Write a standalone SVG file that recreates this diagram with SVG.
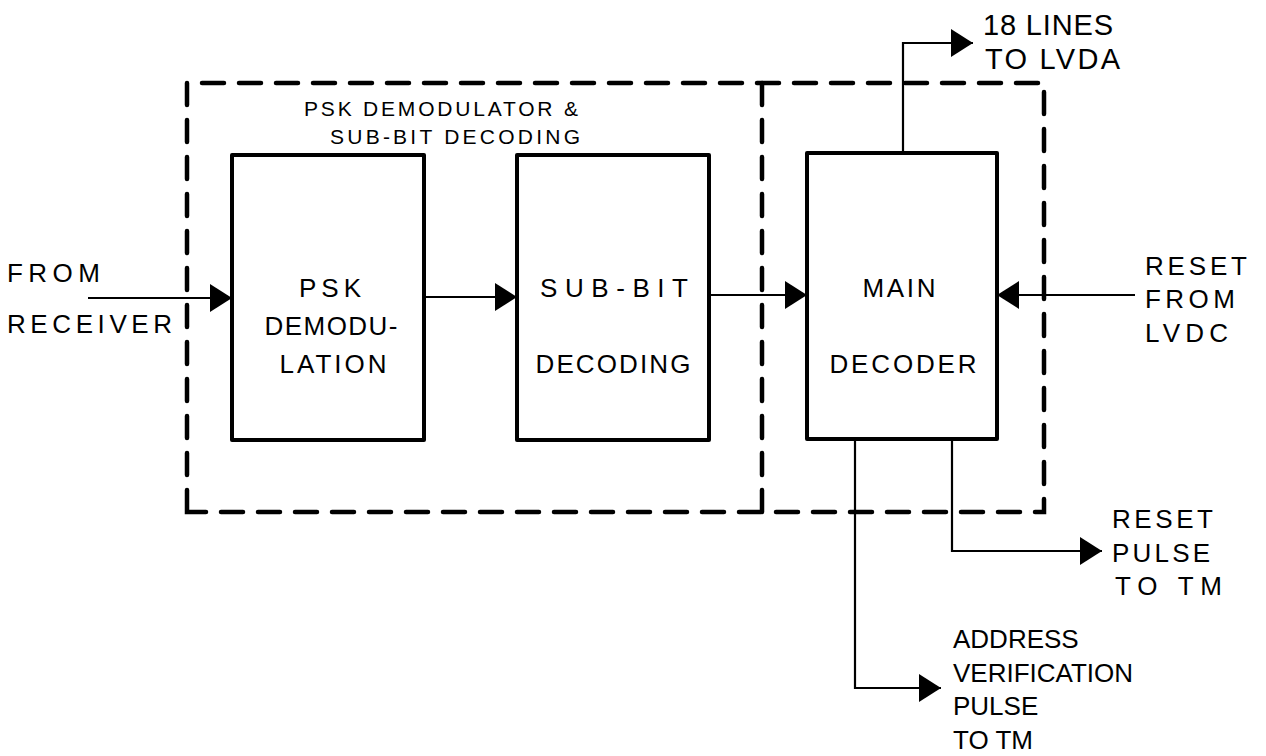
<svg xmlns="http://www.w3.org/2000/svg" width="1266" height="756" viewBox="0 0 1266 756">
<style>
.bg{fill:#fff}
.dash{fill:none;stroke:#000;stroke-width:4.5;stroke-dasharray:22 15;stroke-linecap:round}
.box{fill:none;stroke:#000;stroke-width:4;stroke-linejoin:round}
.wire{fill:none;stroke:#000;stroke-width:2.2}
text{font-family:"Liberation Sans",Arial,sans-serif;fill:#000}
.t{font-size:26px}
.c{text-anchor:middle}
.s{font-size:21px}
.l{font-size:29px}
</style>
<defs>
<marker id="ah" markerUnits="userSpaceOnUse" markerWidth="24" markerHeight="30" refX="22" refY="14" orient="auto">
<path d="M0,0 L22,14 L0,28 Z" fill="#000"/>
</marker>
</defs>
<rect class="bg" x="0" y="0" width="1266" height="756"/>
<g id="group-boundary">
<path class="dash" d="M187,512 L187,83 L1044,83 L1044,512 Z"/>
<path class="dash" d="M762,83 L762,512"/>
<text class="s" x="304" y="116" textLength="274" lengthAdjust="spacing">PSK DEMODULATOR &amp;</text>
<text class="s" x="330" y="144" textLength="250" lengthAdjust="spacing">SUB-BIT DECODING</text>
</g>
<g id="psk">
<rect class="box" x="232" y="155" width="192" height="285"/>
<text class="t c" x="330" y="297" textLength="62" lengthAdjust="spacing">PSK</text>
<text class="t c" x="331" y="335" textLength="133" lengthAdjust="spacing">DEMODU-</text>
<text class="t c" x="333" y="373" textLength="107" lengthAdjust="spacing">LATION</text>
</g>
<g id="subbit">
<rect class="box" x="517" y="155" width="192" height="285"/>
<text class="t c" x="614" y="297" textLength="148" lengthAdjust="spacing">SUB-BIT</text>
<text class="t c" x="613" y="373" textLength="155" lengthAdjust="spacing">DECODING</text>
</g>
<g id="main">
<rect class="box" x="807" y="153" width="190" height="286"/>
<text class="t c" x="899" y="297" textLength="73" lengthAdjust="spacing">MAIN</text>
<text class="t c" x="903" y="373" textLength="147" lengthAdjust="spacing">DECODER</text>
</g>
<g id="labels">
<text class="t" x="7" y="282" textLength="93" lengthAdjust="spacing">FROM</text>
<text class="t" x="7" y="333" textLength="165" lengthAdjust="spacing">RECEIVER</text>
<text class="l" x="983" y="35" textLength="130" lengthAdjust="spacing">18 LINES</text>
<text class="l" x="985" y="69" textLength="135" lengthAdjust="spacing">TO LVDA</text>
<text class="t" x="1145" y="275" textLength="102" lengthAdjust="spacing">RESET</text>
<text class="t" x="1145" y="308" textLength="90" lengthAdjust="spacing">FROM</text>
<text class="t" x="1145" y="342" textLength="83" lengthAdjust="spacing">LVDC</text>
<text class="t" x="1112" y="528" textLength="101" lengthAdjust="spacing">RESET</text>
<text class="t" x="1112" y="562" textLength="98" lengthAdjust="spacing">PULSE</text>
<text class="t" x="1115" y="595" textLength="107" lengthAdjust="spacing">TO  TM</text>
<text class="t" x="953" y="648">ADDRESS</text>
<text class="t" x="953" y="682">VERIFICATION</text>
<text class="t" x="953" y="715">PULSE</text>
<text class="t" x="953" y="749">TO TM</text>
</g>
<g id="connectors">
<path class="wire" d="M88,298 L232,298" marker-end="url(#ah)"/>
<path class="wire" d="M424,297 L517,297" marker-end="url(#ah)"/>
<path class="wire" d="M709,295 L807,295" marker-end="url(#ah)"/>
<path class="wire" d="M1135,295 L997,295" marker-end="url(#ah)"/>
<path class="wire" d="M903,153 L903,43 L973,43" marker-end="url(#ah)"/>
<path class="wire" d="M952,439 L952,551 L1102,551" marker-end="url(#ah)"/>
<path class="wire" d="M855,439 L855,688 L941,688" marker-end="url(#ah)"/>
</g>
</svg>
